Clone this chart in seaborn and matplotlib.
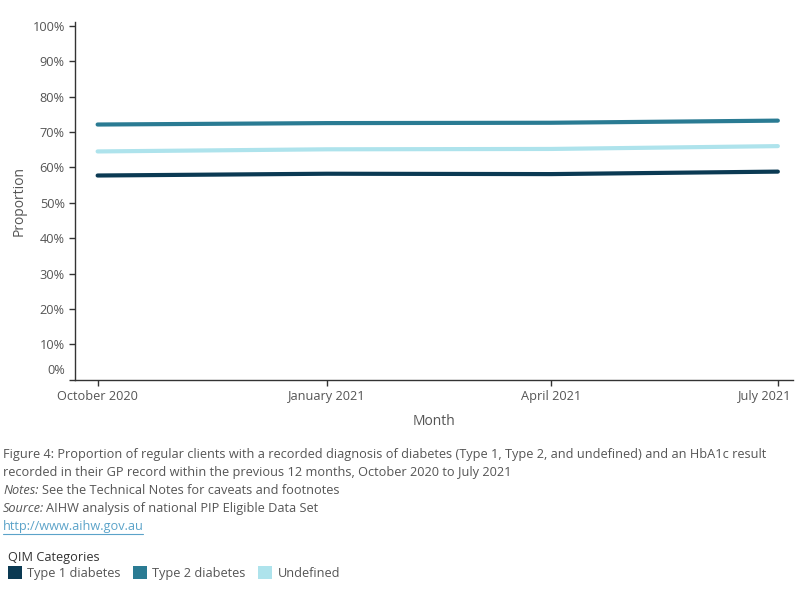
import matplotlib
matplotlib.use("Agg")
import matplotlib.pyplot as plt
import matplotlib.transforms as mtransforms
from matplotlib.patches import Patch
import pandas as pd
import seaborn as sns

# data
months = ["2020-10-01", "2021-01-01", "2021-04-01", "2021-07-01"]
month_labels = ["October 2020", "January 2021", "April 2021", "July 2021"]
type1 = [0.577, 0.582, 0.581, 0.588]
type2 = [0.721, 0.725, 0.726, 0.732]
undefined = [0.645, 0.651, 0.652, 0.660]
categories = ["Type 1 diabetes", "Type 2 diabetes", "Undefined"]
colors = ["#0b3a53", "#2a7b93", "#aee3ec"]

rows = []
for cat, vals in zip(categories, [type1, type2, undefined]):
    for m, v in zip(months, vals):
        rows.append({"Month": pd.Timestamp(m), "Proportion": v, "QIM Categories": cat})
df = pd.DataFrame(rows)

sns.set_theme(style="white")
plt.rcParams["font.family"] = ["Open Sans", "DejaVu Sans"]
grey = "#555555"
fs = 9.2

fig = plt.figure(figsize=(8, 6), dpi=100)
ax = fig.add_axes([0.094, 0.367, 0.897, 0.596])

sns.lineplot(data=df, x="Month", y="Proportion", hue="QIM Categories",
             palette=dict(zip(categories, colors)), linewidth=3, legend=False, ax=ax)

ticks = [pd.Timestamp(m) for m in months]
ax.set_xticks(ticks)
ax.set_xticklabels(month_labels[:-1] + [""], color=grey, fontsize=fs)
ax.set_xlim(pd.Timestamp("2020-09-22"), pd.Timestamp("2021-07-07"))
# last label pulled left so it stays inside the figure (like Tableau does)
ax.text(ticks[-1], 0, month_labels[-1], color=grey, fontsize=fs, ha="right", va="top",
        transform=ax.get_xaxis_transform() + mtransforms.ScaledTranslation(14 / 100, -7.5 / 72, fig.dpi_scale_trans))

ax.set_ylim(0, 1.01)
yt = [i / 10 for i in range(11)]
ax.set_yticks(yt)
ylabels = [f"{int(round(v * 100))}%" for v in yt]
ax.set_yticklabels([""] + ylabels[1:], color=grey, fontsize=fs)
# Tableau nudges the 0% label up off the axis line
ax.text(0, yt[0], ylabels[0], color=grey, fontsize=fs, ha="right", va="center",
        transform=ax.get_yaxis_transform() + mtransforms.ScaledTranslation(-7.5 / 72, 9 / 100, fig.dpi_scale_trans))

ax.tick_params(axis="both", length=4, width=1, color="#333333", direction="out",
               left=True, bottom=True)
for side in ["top", "right"]:
    ax.spines[side].set_visible(False)
for side in ["left", "bottom"]:
    ax.spines[side].set_color("#333333")
    ax.spines[side].set_linewidth(1)

ax.set_xlabel("Month", color=grey, fontsize=10, labelpad=8)
ax.set_ylabel("Proportion", color=grey, fontsize=10, labelpad=4)

# caption
fig.text(0.004, 0.242, "Figure 4: Proportion of regular clients with a recorded diagnosis of diabetes "
         "(Type 1, Type 2, and undefined) and an HbA1c result", color=grey, fontsize=fs, va="center")
fig.text(0.004, 0.212, "recorded in their GP record within the previous 12 months, October 2020 to July 2021",
         color=grey, fontsize=fs, va="center")
fig.text(0.004, 0.182, "Notes:", color=grey, fontsize=fs, va="center", style="italic")
fig.text(0.052, 0.182, "See the Technical Notes for caveats and footnotes", color=grey, fontsize=fs, va="center")
fig.text(0.004, 0.152, "Source:", color=grey, fontsize=fs, va="center", style="italic")
fig.text(0.058, 0.152, "AIHW analysis of national PIP Eligible Data Set", color=grey, fontsize=fs, va="center")
fig.text(0.004, 0.122, "http://www.aihw.gov.au", color="#5ba3c9", fontsize=fs, va="center")
fig.add_artist(plt.Line2D([0.004, 0.179], [0.110, 0.110], color="#5ba3c9", linewidth=0.8))

handles = [Patch(facecolor=c, edgecolor="none") for c in colors]
leg = fig.legend(handles, categories, loc="upper left", bbox_to_anchor=(0.0, 0.095),
                 ncol=3, frameon=False, title="QIM Categories", fontsize=fs,
                 handlelength=1.1, handleheight=1.2, handletextpad=0.4, columnspacing=1.0,
                 alignment="left", borderaxespad=0.2, labelspacing=0.2)
leg.get_title().set_fontsize(fs)
leg.get_title().set_color("#333333")
for txt in leg.get_texts():
    txt.set_color(grey)

fig.savefig("out.png", dpi=100)
